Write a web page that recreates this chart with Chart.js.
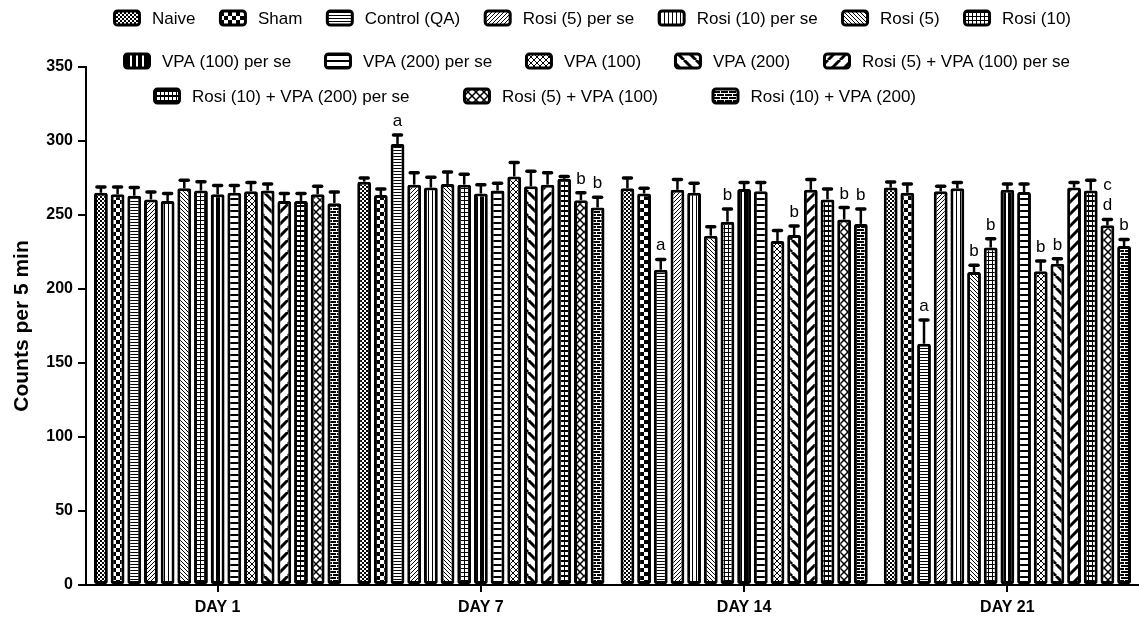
<!DOCTYPE html>
<html>
<head>
<meta charset="utf-8">
<script src="https://cdn.jsdelivr.net/npm/chart.js@4.4.1/dist/chart.umd.min.js"></script>
<style>
    html, body { margin: 0; padding: 0; background: #fff; }
    #wrap { width: 1139px; height: 617px; position: relative; }
</style>
</head>
<body>
<div id="wrap"><canvas id="myChart"></canvas></div>
<script>
var days = ['DAY 1', 'DAY 7', 'DAY 14', 'DAY 21'];

var groups = [
    'Naive', 'Sham', 'Control (QA)', 'Rosi (5) per se', 'Rosi (10) per se',
    'Rosi (5)', 'Rosi (10)', 'VPA (100) per se', 'VPA (200) per se', 'VPA (100)',
    'VPA (200)', 'Rosi (5) + VPA (100) per se', 'Rosi (10) + VPA (200) per se',
    'Rosi (5) + VPA (100)', 'Rosi (10) + VPA (200)'
];

// mean counts per 5 min, one value per group, one array per day
var meanDay1  = [265, 264, 263, 260.5, 259.5, 268, 266.5, 264, 265, 266, 266.5, 259.5, 259.5, 264, 258];
var meanDay7  = [272.5, 263.5, 298, 270.5, 268.5, 271, 270.5, 264.5, 266.5, 276, 269.5, 270.5, 274.5, 260, 255];
var meanDay14 = [268, 264.5, 213, 267, 265, 236, 245.5, 267.5, 266, 232.5, 236.5, 267, 260.5, 247, 244];
var meanDay21 = [268.5, 265, 163, 266, 268, 211.5, 228, 267, 265.5, 212, 217, 268.5, 266.5, 243, 229];

// SEM (upper error bar)
var semDay1  = [4, 5, 5.5, 5, 5, 5.5, 6, 6, 5, 6, 4.5, 5, 5, 5.5, 7.5];
var semDay7  = [2.5, 4, 6, 8, 7, 8, 7, 6, 5, 9.5, 10, 8, 1.5, 5, 7];
var semDay14 = [7, 3.5, 7, 7, 6.5, 6, 8.5, 4.5, 6, 7, 6, 7, 7, 8, 10];
var semDay21 = [3.8, 6, 16, 3.5, 4, 4.5, 6, 4, 5.5, 7, 3.5, 3.5, 7, 4, 4.5];

// significance letters above the bars
var sigDay1  = ['', '', '', '', '', '', '', '', '', '', '', '', '', '', ''];
var sigDay7  = ['', '', 'a', '', '', '', '', '', '', '', '', '', '', 'b', 'b'];
var sigDay14 = ['', '', 'a', '', '', '', 'b', '', '', '', 'b', '', '', 'b', 'b'];
var sigDay21 = ['', '', 'a', '', '', 'b', 'b', '', '', 'b', 'b', '', '', 'c\nd', 'b'];

var FONT = '"Liberation Sans", Arial, Helvetica, sans-serif';

var canvas = document.getElementById('myChart');
var mainCtx = canvas.getContext('2d');

function makePattern(w, h, draw, bg) {
    var c = document.createElement('canvas');
    c.width = w;
    c.height = h;
    var g = c.getContext('2d');
    g.fillStyle = bg || '#fff';
    g.fillRect(0, 0, w, h);
    g.fillStyle = '#000';
    g.strokeStyle = '#000';
    draw(g, w, h);
    return mainCtx.createPattern(c, 'repeat');
}

function diag(g, w, h, lw, back) {
    g.lineWidth = lw;
    g.beginPath();
    for (var k = -1; k <= 1; k++) {
        if (back) {
            g.moveTo(k * w, 0);
            g.lineTo(k * w + w, h);
        } else {
            g.moveTo(k * w, h);
            g.lineTo(k * w + w, 0);
        }
    }
    g.stroke();
}

var patterns = [
    makePattern(4, 4, function(g) { g.fillRect(0, 0, 2, 2); g.fillRect(2, 2, 2, 2); }),
    makePattern(8, 8, function(g) { g.fillRect(0, 0, 4, 4); g.fillRect(4, 4, 4, 4); }),
    makePattern(4, 3, function(g, w) { g.fillRect(0, 0, w, 1); }),
    makePattern(4, 4, function(g, w, h) { diag(g, w, h, 1, false); }),
    makePattern(4, 4, function(g, w, h) { g.fillRect(0, 0, 1, h); }),
    makePattern(4, 4, function(g, w, h) { diag(g, w, h, 1, true); }),
    makePattern(4, 4, function(g, w, h) { g.fillRect(0, 0, 1, h); g.fillRect(0, 0, w, 1); }),
    makePattern(6, 4, function(g, w, h) { g.fillRect(0, 0, 4, h); }),
    makePattern(4, 6, function(g, w) { g.fillRect(0, 0, w, 2); }),
    makePattern(6, 6, function(g, w, h) { diag(g, w, h, 1, false); diag(g, w, h, 1, true); }),
    makePattern(12, 12, function(g, w, h) { diag(g, w, h, 3, true); }),
    makePattern(12, 12, function(g, w, h) { diag(g, w, h, 3, false); }),
    makePattern(4, 5, function(g, w, h) { g.fillRect(0, 0, 1, h); g.fillRect(0, 0, w, 2); }),
    makePattern(8, 8, function(g, w, h) { diag(g, w, h, 1.5, false); diag(g, w, h, 1.5, true); }),
    makePattern(8, 6, function(g) {
        g.fillStyle = '#fff';
        g.fillRect(0, 0, 8, 1);
        g.fillRect(0, 3, 8, 1);
        g.fillRect(0, 0, 1, 3);
        g.fillRect(4, 3, 1, 3);
    }, '#000')
];

var means = [meanDay1, meanDay7, meanDay14, meanDay21];
var sems = [semDay1, semDay7, semDay14, semDay21];
var sigs = [sigDay1, sigDay7, sigDay14, sigDay21];

var datasets = groups.map(function(name, i) {
    return {
        label: name,
        data: means.map(function(d) { return d[i]; }),
        sem: sems.map(function(d) { return d[i]; }),
        sig: sigs.map(function(d) { return d[i]; }),
        backgroundColor: patterns[i],
        borderColor: '#000',
        borderWidth: 3,
        borderSkipped: false,
        borderRadius: 2
    };
});

var errorBars = {
    id: 'errorBars',
    afterDatasetsDraw: function(chart) {
        var ctx = chart.ctx;
        var y = chart.scales.y;
        chart.data.datasets.forEach(function(ds, i) {
            var meta = chart.getDatasetMeta(i);
            meta.data.forEach(function(bar, j) {
                var top = y.getPixelForValue(ds.data[j] + ds.sem[j]);
                ctx.save();
                ctx.strokeStyle = '#000';
                ctx.lineWidth = 2.5;
                ctx.beginPath();
                ctx.moveTo(bar.x, bar.y);
                ctx.lineTo(bar.x, top);
                ctx.stroke();
                ctx.lineWidth = 3.5;
                ctx.lineCap = 'round';
                ctx.beginPath();
                ctx.moveTo(bar.x - 4, top);
                ctx.lineTo(bar.x + 4, top);
                ctx.stroke();
                if (ds.sig[j]) {
                    var lines = ds.sig[j].split('\n');
                    ctx.fillStyle = '#000';
                    ctx.font = '17px ' + FONT;
                    ctx.textAlign = 'center';
                    ctx.textBaseline = 'alphabetic';
                    for (var k = 0; k < lines.length; k++) {
                        ctx.fillText(lines[k], bar.x, top - 9 - (lines.length - 1 - k) * 20);
                    }
                }
                ctx.restore();
            });
        });
    }
};

// legend drawn by hand so the three rows break and spread like the original
var legendRows = [[0, 1, 2, 3, 4, 5, 6], [7, 8, 9, 10, 11], [12, 13, 14]];
var legendY = [18, 61, 96];
var legendStart = [113, 123, 153];
var legendEnd = [1071, 1070, 916];

var patternLegend = {
    id: 'patternLegend',
    afterDraw: function(chart) {
        var ctx = chart.ctx;
        var boxW = 28, boxH = 14, textGap = 11;
        ctx.save();
        ctx.font = '17px ' + FONT;
        legendRows.forEach(function(row, r) {
            var natural = 0;
            row.forEach(function(i) {
                natural += boxW + textGap + ctx.measureText(groups[i]).width;
            });
            var gap = (legendEnd[r] - legendStart[r] - natural) / (row.length - 1);
            var x = legendStart[r];
            var yc = legendY[r];
            row.forEach(function(i) {
                ctx.beginPath();
                ctx.roundRect(x + 1.5, yc - boxH / 2, boxW - 3, boxH, 3);
                ctx.fillStyle = patterns[i];
                ctx.fill();
                ctx.lineWidth = 3;
                ctx.strokeStyle = '#000';
                ctx.stroke();
                ctx.fillStyle = '#000';
                ctx.textAlign = 'left';
                ctx.textBaseline = 'middle';
                ctx.fillText(groups[i], x + boxW + textGap, yc + 1);
                x += boxW + textGap + ctx.measureText(groups[i]).width + gap;
            });
        });
        ctx.restore();
    }
};

var config = {
    type: 'bar',
    data: {
        labels: days,
        datasets: datasets
    },
    options: {
        responsive: true,
        maintainAspectRatio: false,
        animation: false,
        layout: {
            padding: { top: 67, right: -3, bottom: 0, left: 0 }
        },
        datasets: {
            bar: {
                categoryPercentage: 0.95,
                barPercentage: 0.83
            }
        },
        plugins: {
            legend: { display: false },
            tooltip: { enabled: false }
        },
        scales: {
            x: {
                grid: {
                    offset: false,
                    drawOnChartArea: false,
                    drawTicks: true,
                    tickLength: 7,
                    color: '#000',
                    lineWidth: 2
                },
                border: { display: true, color: '#000', width: 2 },
                ticks: {
                    color: '#000',
                    padding: 6,
                    font: { family: FONT, size: 16, weight: 'bold' }
                },
                afterFit: function(scale) { scale.height = 32; }
            },
            y: {
                min: 0,
                max: 350,
                grid: {
                    drawOnChartArea: false,
                    drawTicks: true,
                    tickLength: 8,
                    color: '#000',
                    lineWidth: 2
                },
                border: { display: true, color: '#000', width: 2 },
                ticks: {
                    stepSize: 50,
                    color: '#000',
                    padding: 5,
                    font: { family: FONT, size: 16, weight: 'bold' }
                },
                title: {
                    display: true,
                    text: 'Counts per 5 min',
                    color: '#000',
                    padding: { top: 10, bottom: 0 },
                    font: { family: FONT, size: 21, weight: 'bold' }
                },
                afterFit: function(scale) { scale.width = 86; }
            }
        }
    },
    plugins: [errorBars, patternLegend]
};

window.myBar = new Chart(mainCtx, config);
</script>
</body>
</html>
